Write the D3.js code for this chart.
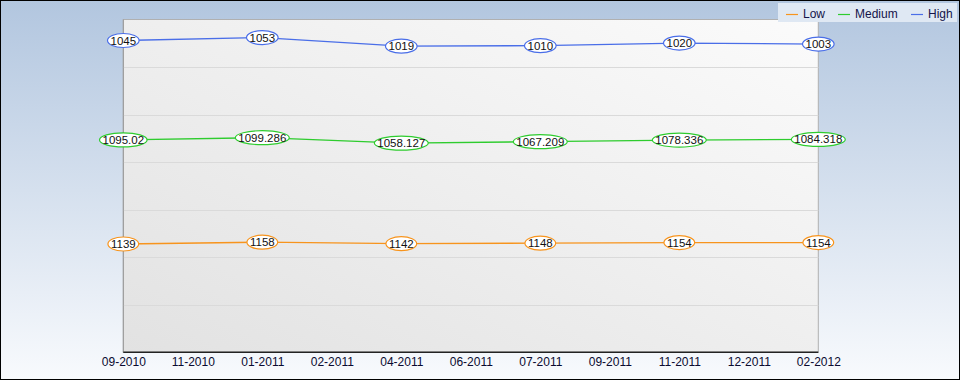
<!doctype html>
<html>
<head>
<meta charset="utf-8">
<script src="https://d3js.org/d3.v7.min.js"></script>
<style>
  body { margin: 0; }
  svg { display: block; font-family: "Liberation Sans", Arial, sans-serif; }
</style>
</head>
<body>
<svg width="960" height="380"></svg>
<script>
// data
var tickLabels = ["09-2010", "11-2010", "01-2011", "02-2011", "04-2011", "06-2011",
                  "07-2011", "09-2011", "11-2011", "12-2011", "02-2012"];
var dates = ["09-2010", "01-2011", "04-2011", "07-2011", "11-2011", "02-2012"];
var seriesNames = ["Low", "Medium", "High"];
var lowValues = [1139, 1158, 1142, 1148, 1154, 1154];
var mediumValues = [1095.02, 1099.286, 1058.127, 1067.209, 1078.336, 1084.318];
var highValues = [1045, 1053, 1019, 1010, 1020, 1003];
var colors = ["#f7941d", "#2ecc2e", "#4a6ee8"];
var yTicks = [0, 500, 1000, 1500, 2000, 2500, 3000, 3500];

var svg = d3.select("svg"),
    W = 960, H = 380,
    pLeft = 123.3, pRight = 818.3, pTop = 19.5, pBottom = 352.3;

var defs = svg.append("defs");
var bg = defs.append("linearGradient").attr("id", "bg").attr("x1", 0).attr("y1", 0).attr("x2", 0).attr("y2", 1);
bg.append("stop").attr("offset", "0%").attr("stop-color", "#b2c6df");
bg.append("stop").attr("offset", "100%").attr("stop-color", "#f8fafd");
var pg = defs.append("linearGradient").attr("id", "pg").attr("x1", 1).attr("y1", 0).attr("x2", 0).attr("y2", 1);
pg.append("stop").attr("offset", "0%").attr("stop-color", "#fbfbfb");
pg.append("stop").attr("offset", "100%").attr("stop-color", "#e2e2e2");

svg.append("rect").attr("x", 0.5).attr("y", 0.5).attr("width", W - 1).attr("height", H - 1)
   .attr("fill", "url(#bg)").attr("stroke", "#000");

// plot area
svg.append("rect").attr("x", pLeft).attr("y", pTop).attr("width", pRight - pLeft).attr("height", pBottom - pTop)
   .attr("fill", "url(#pg)").attr("stroke", "#b0b0b0");

var x = d3.scalePoint().domain(tickLabels).range([pLeft, pRight]);
var y = d3.scaleLinear().domain([0, 3500]).range([pBottom, pTop]);

// grid
svg.append("g").selectAll("line").data(yTicks.slice(1, -1)).enter().append("line")
   .attr("x1", pLeft).attr("x2", pRight)
   .attr("y1", function(d) { return Math.round(y(d)) + 0.5; })
   .attr("y2", function(d) { return Math.round(y(d)) + 0.5; })
   .attr("stroke", "#dadada");

// left + bottom axis lines
svg.append("line").attr("x1", pLeft).attr("x2", pLeft).attr("y1", pTop).attr("y2", pBottom)
   .attr("stroke", "#999");
svg.append("line").attr("x1", pLeft).attr("x2", pRight).attr("y1", pBottom).attr("y2", pBottom)
   .attr("stroke", "#222").attr("stroke-width", 1.5);

// x labels
var xAxis = svg.append("g").attr("transform", "translate(0," + pBottom + ")")
   .call(d3.axisBottom(x).tickSize(0).tickPadding(5));
xAxis.select(".domain").remove();
xAxis.selectAll("text").attr("font-size", "12px").attr("fill", "#0a0a30")
   .attr("font-family", "Liberation Sans, Arial, sans-serif");

// stack
var table = dates.map(function(d, i) {
    return { date: d, Low: lowValues[i], Medium: mediumValues[i], High: highValues[i] };
});
var stacked = d3.stack().keys(seriesNames)(table);

var line = d3.line()
    .x(function(d) { return x(d.data.date); })
    .y(function(d) { return y(d[1]); });

stacked.forEach(function(s, si) {
    svg.append("path").datum(s)
       .attr("d", line)
       .attr("fill", "none")
       .attr("stroke", colors[si])
       .attr("stroke-width", 1.3);
});

stacked.forEach(function(s, si) {
    var g = svg.append("g").selectAll("g").data(s).enter().append("g")
       .attr("transform", function(d) { return "translate(" + x(d.data.date) + "," + y(d[1]) + ")"; });
    g.append("ellipse").attr("fill", "#fff").attr("stroke", colors[si]).attr("stroke-width", 1.2)
       .attr("ry", 7);
    var t = g.append("text")
       .attr("text-anchor", "middle").attr("dy", "0.35em")
       .attr("font-size", "11.5px").attr("fill", "#111")
       .text(function(d) { return d.data[s.key]; });
    t.each(function() {
        var w = this.getComputedTextLength();
        d3.select(this.parentNode).select("ellipse").attr("rx", w / 2 + 3);
    });
});

// legend
var lg = svg.append("g");
lg.append("rect").attr("x", 778).attr("y", 3).attr("width", 179).attr("height", 19)
  .attr("fill", "#dfe8f3");
var lx = [786, 838, 911];
seriesNames.forEach(function(n, i) {
    lg.append("line").attr("x1", lx[i]).attr("x2", lx[i] + 12).attr("y1", 14.5).attr("y2", 14.5)
      .attr("stroke", colors[i]).attr("stroke-width", 1.2);
    lg.append("text").attr("x", lx[i] + 17).attr("y", 14).attr("dy", "0.35em")
      .attr("font-size", "12px").attr("fill", "#14144a").text(n);
});
</script>
</body>
</html>
